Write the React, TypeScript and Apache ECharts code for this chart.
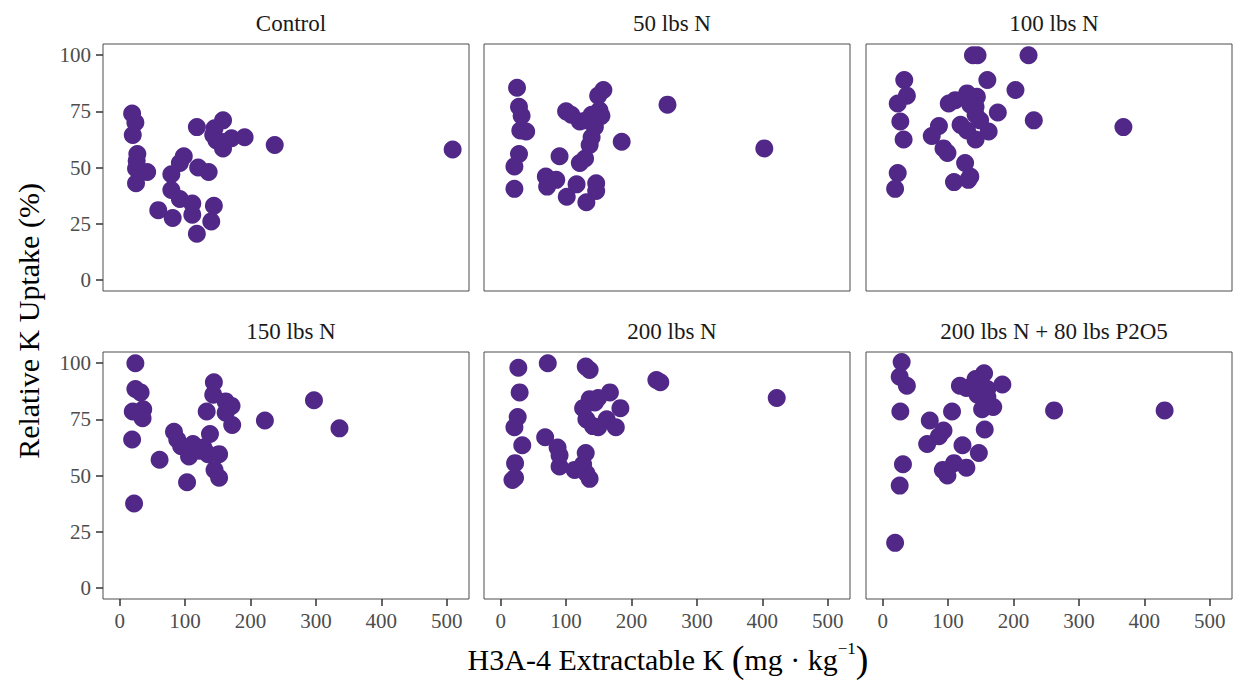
import React, { useEffect, useRef } from "react";
import * as echarts from "echarts";

const panelTitles = ["Control", "50 lbs N", "100 lbs N", "150 lbs N", "200 lbs N", "200 lbs N + 80 lbs P2O5"];

const xControl = [19, 24, 20, 27, 26, 25, 25, 42, 59, 81, 79, 79, 92, 98, 92, 111, 111, 118, 120, 136, 144, 140, 118, 158, 145, 148, 158, 171, 191, 237, 509, 143, 155];
const yControl = [74, 70, 64.5, 56, 53, 49.5, 43, 48, 31, 27.5, 47, 40, 36, 55, 52, 34, 29, 20.5, 50, 48, 33, 26, 68, 71, 67.5, 62, 58.5, 63, 63.5, 60, 58, 64.5, 61.5];

const xN50 = [25, 28, 32, 30, 39, 28, 21, 21, 90, 69, 71, 85, 101, 116, 131, 146, 146, 121, 129, 136, 139, 100, 108, 121, 131, 149, 157, 151, 154, 139, 144, 185, 255, 403];
const yN50 = [85.5, 77, 73, 66.5, 66, 56, 50.5, 40.5, 55, 46, 41.5, 44.5, 37, 42.5, 34.5, 43, 39.5, 52, 54, 60, 63.5, 75, 73.5, 70.5, 71, 82, 84.5, 75.5, 73, 73.5, 68, 61.5, 78, 58.5];

const xN100 = [138, 145, 223, 33, 160, 37, 23, 27, 32, 23, 19, 203, 129, 144, 142, 101, 111, 176, 149, 231, 119, 162, 142, 129, 86, 75, 93, 99, 126, 134, 109, 131, 368, 142, 134];
const yN100 = [100, 100, 100, 89, 89, 82, 78.5, 70.5, 62.5, 47.5, 40.5, 84.5, 83, 81.5, 77, 78.5, 80, 74.5, 71, 71, 69, 66, 62.5, 66.5, 68.5, 64, 58.5, 56.5, 52, 46, 43.5, 44.5, 68, 73.5, 78];

const xN150 = [24, 24, 32, 20, 36, 35, 19, 22, 61, 103, 83, 88, 94, 106, 112, 122, 138, 135, 152, 145, 152, 144, 143, 133, 162, 171, 162, 172, 222, 297, 336, 128];
const yN150 = [100, 88.5, 87, 78.5, 79.5, 75.5, 66, 37.5, 57, 47, 69.5, 66, 63, 58.5, 64, 61, 68.5, 59.5, 59.5, 52.5, 49, 91.5, 86, 78.5, 83, 81, 78, 72.5, 74.5, 83.5, 71, 62.5];

const xN200 = [27, 72, 130, 136, 238, 244, 422, 29, 26, 21, 33, 22, 18, 22, 68, 87, 90, 90, 113, 130, 126, 131, 136, 126, 136, 149, 167, 183, 131, 141, 149, 162, 176, 144];
const yN200 = [98, 100, 98.5, 97, 92.5, 91.5, 84.5, 87, 76, 71.5, 63.5, 55.5, 48, 49, 67, 62.5, 59, 54, 52.5, 60, 55, 51, 48.5, 80, 84, 84.5, 87, 80, 75, 72, 71.5, 75, 71.5, 82.5];

const xN200P = [29, 26, 37, 27, 31, 26, 19, 72, 93, 86, 68, 106, 122, 147, 156, 92, 99, 109, 128, 118, 128, 142, 155, 160, 183, 152, 169, 160, 262, 431, 145];
const yN200P = [100.5, 94, 90, 78.5, 55, 45.5, 20, 74.5, 70, 67.5, 64, 78.5, 63.5, 60, 70.5, 52.5, 50, 55.5, 53.5, 90, 89, 93, 95.5, 88.5, 90.5, 79.5, 80.5, 85, 79, 79, 86];

const xTicks = [0, 100, 200, 300, 400, 500];
const yTicks = [0, 25, 50, 75, 100];

const panelX = [xControl, xN50, xN100, xN150, xN200, xN200P];
const panelY = [yControl, yN50, yN100, yN150, yN200, yN200P];

const FONT = "'Liberation Serif', 'Times New Roman', serif";

export default function App() {
  const ref = useRef<HTMLDivElement>(null);
  useEffect(() => {
    document.body.style.margin = "0";
    if (!ref.current) return;
    const chart = echarts.init(ref.current, undefined, { renderer: "svg" });
    const colLeft = [103, 484, 866];
    const rowTop = [44, 352];
    const gw = 366;
    const gh = 247;
    const grids: any[] = [];
    const xAxes: any[] = [];
    const yAxes: any[] = [];
    const series: any[] = [];
    const titles: any[] = [];
    for (let i = 0; i < 6; i++) {
      const r = Math.floor(i / 3);
      const c = i % 3;
      grids.push({
        left: colLeft[c],
        top: rowTop[r],
        width: gw,
        height: gh,
        show: true,
        borderColor: "#4d4d4d",
        borderWidth: 1,
        backgroundColor: "#fff",
      });
      xAxes.push({
        type: "value",
        gridIndex: i,
        min: -25.5,
        max: 534,
        position: "bottom",
        splitLine: { show: false },
        axisLine: { show: false, onZero: false },
        axisTick: {
          show: r === 1,
          length: 7,
          lineStyle: { color: "#333", width: 1.5 },
          customValues: xTicks,
        },
        axisLabel: {
          show: r === 1,
          customValues: xTicks,
          color: "#4d4d4d",
          fontFamily: FONT,
          fontSize: 21,
          margin: 11,
        },
      });
      yAxes.push({
        type: "value",
        gridIndex: i,
        min: -5,
        max: 105,
        position: "left",
        splitLine: { show: false },
        axisLine: { show: false, onZero: false },
        axisTick: {
          show: c === 0,
          length: 7,
          lineStyle: { color: "#333", width: 1.5 },
          customValues: yTicks,
        },
        axisLabel: {
          show: c === 0,
          customValues: yTicks,
          color: "#4d4d4d",
          fontFamily: FONT,
          fontSize: 21,
          margin: 12,
        },
      });
      series.push({
        type: "scatter",
        name: panelTitles[i],
        xAxisIndex: i,
        yAxisIndex: i,
        symbol: "circle",
        symbolSize: 18,
        itemStyle: { color: "#512888", opacity: 1 },
        data: panelX[i].map((v, k) => [v, panelY[i][k]]),
      });
      titles.push({
        text: panelTitles[i],
        left: colLeft[c] + gw / 2,
        top: rowTop[r] - 37,
        textAlign: "center",
        textStyle: {
          fontFamily: FONT,
          fontSize: 23,
          fontWeight: "normal",
          color: "#1a1a1a",
        },
      });
    }
    chart.setOption({
      animation: false,
      backgroundColor: "#fff",
      title: titles,
      grid: grids,
      xAxis: xAxes,
      yAxis: yAxes,
      series,
      graphic: [
        {
          type: "text",
          x: 28,
          y: 321,
          rotation: Math.PI / 2,
          style: {
            text: "Relative K Uptake (%)",
            fontFamily: FONT,
            fontSize: 30,
            fill: "#000",
            align: "center",
            verticalAlign: "middle",
          },
        },
        {
          type: "text",
          x: 668,
          y: 659,
          style: {
            text: "H3A-4 Extractable K {p|(}mg · kg{s|−1}{p|)}",
            fontFamily: FONT,
            fontSize: 30,
            fill: "#000",
            align: "center",
            verticalAlign: "middle",
            rich: {
              p: { fontFamily: FONT, fontSize: 38, fill: "#000" },
              s: { fontFamily: FONT, fontSize: 17, fill: "#000", verticalAlign: "top", padding: [0, 0, 14, 0] },
            },
          },
        },
      ],
    });
    return () => chart.dispose();
  }, []);
  return <div ref={ref} style={{ width: 1233, height: 680 }} />;
}
